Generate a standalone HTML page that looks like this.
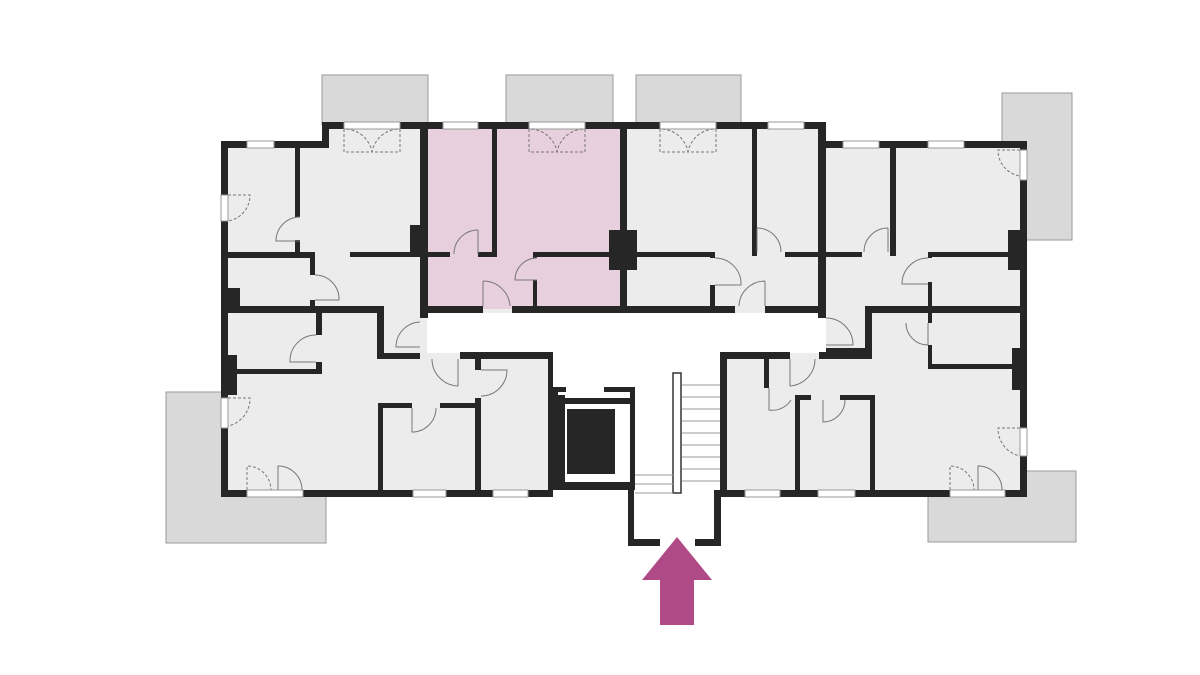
<!DOCTYPE html>
<html><head><meta charset="utf-8"><style>html,body{margin:0;padding:0;background:#fff}svg{display:block}</style></head>
<body>
<svg width="1200" height="675" viewBox="0 0 1200 675" xmlns="http://www.w3.org/2000/svg">
<!-- balconies -->
<g fill="#d9d9d9" stroke="#9a9a9a" stroke-width="1">
<rect x="322" y="75" width="106" height="50"/>
<rect x="506" y="75" width="107" height="50"/>
<rect x="636" y="75" width="105" height="50"/>
<rect x="1002" y="93" width="70" height="147"/>
<rect x="166" y="392" width="160" height="151"/>
<rect x="928" y="471" width="148" height="71"/>
</g>
<!-- floor fill -->
<polygon fill="#ececec" points="221,141 322,141 322,122 826,122 826,141 1027,141 1027,497 221,497"/>
<rect x="428" y="129" width="195" height="180" fill="#e8cfdd"/>
<!-- corridor white -->
<polygon fill="#fff" points="427,313 826,313 826,353 722,353 722,545 634,545 634,497 552,497 552,353 427,353"/>
<!-- walls -->
<g fill="#262626">
<!-- outer -->
<rect x="221" y="141" width="101" height="7"/>
<rect x="322" y="122" width="7" height="26"/>
<rect x="322" y="122" width="504" height="7"/>
<rect x="818" y="122" width="8" height="26"/>
<rect x="818" y="141" width="209" height="7"/>
<rect x="1020" y="141" width="7" height="356"/>
<rect x="221" y="141" width="7" height="356"/>
<rect x="221" y="490" width="331" height="7"/>
<rect x="722" y="490" width="305" height="7"/>
<!-- entrance -->
<rect x="628" y="490" width="6" height="56"/>
<rect x="714" y="490" width="7" height="56"/>
<rect x="628" y="539" width="32" height="7"/>
<rect x="695" y="539" width="26" height="7"/>
<!-- top left block -->
<rect x="295" y="147" width="5" height="70"/>
<rect x="295" y="240" width="5" height="15"/>
<rect x="228" y="252" width="87" height="6"/>
<rect x="310" y="252" width="5" height="23"/>
<rect x="310" y="300" width="5" height="8"/>
<rect x="350" y="252" width="71" height="5"/>
<rect x="410" y="225" width="11" height="30"/>
<rect x="221" y="288" width="19" height="22"/>
<rect x="221" y="306" width="162" height="7"/>
<rect x="377" y="306" width="7" height="53"/>
<rect x="377" y="353" width="43" height="6"/>
<rect x="420" y="122" width="8" height="196"/>
<!-- pink block -->
<rect x="492" y="129" width="5" height="127"/>
<rect x="428" y="252" width="22" height="5"/>
<rect x="478" y="252" width="19" height="5"/>
<rect x="533" y="252" width="80" height="5"/>
<rect x="533" y="252" width="4" height="6"/>
<rect x="533" y="280" width="4" height="28"/>
<rect x="609" y="230" width="28" height="40"/>
<rect x="620" y="122" width="7" height="191"/>
<rect x="427" y="306" width="56" height="7"/>
<rect x="512" y="306" width="223" height="7"/>
<rect x="765" y="306" width="61" height="7"/>
<!-- middle top block -->
<rect x="637" y="252" width="76" height="5"/>
<rect x="710" y="252" width="5" height="6"/>
<rect x="710" y="285" width="5" height="24"/>
<rect x="752" y="122" width="5" height="134"/>
<rect x="785" y="252" width="35" height="5"/>
<rect x="818" y="122" width="8" height="196"/>
<!-- right block -->
<rect x="826" y="252" width="36" height="5"/>
<rect x="890" y="147" width="6" height="109"/>
<rect x="928" y="252" width="85" height="5"/>
<rect x="928" y="252" width="4" height="6"/>
<rect x="928" y="282" width="4" height="26"/>
<rect x="1008" y="230" width="19" height="40"/>
<rect x="865" y="306" width="162" height="7"/>
<rect x="865" y="306" width="7" height="53"/>
<rect x="826" y="348" width="46" height="8"/>
<rect x="928" y="313" width="4" height="10"/>
<rect x="928" y="345" width="4" height="24"/>
<rect x="928" y="364" width="92" height="5"/>
<rect x="1012" y="348" width="15" height="42"/>
<!-- lower left -->
<rect x="316" y="313" width="6" height="22"/>
<rect x="316" y="362" width="6" height="12"/>
<rect x="228" y="369" width="94" height="5"/>
<rect x="221" y="355" width="16" height="40"/>
<rect x="460" y="352" width="92" height="7"/>
<rect x="548" y="352" width="5" height="145"/>
<rect x="378" y="403" width="34" height="5"/>
<rect x="440" y="403" width="35" height="5"/>
<rect x="378" y="403" width="5" height="92"/>
<rect x="475" y="358" width="6" height="12"/>
<rect x="475" y="398" width="6" height="95"/>
<!-- lift -->
<rect x="553" y="387" width="13" height="5"/>
<rect x="604" y="387" width="31" height="5"/>
<rect x="553" y="387" width="5" height="103"/>
<rect x="630" y="387" width="5" height="103"/>
<rect x="558" y="395" width="7" height="95"/>
<rect x="558" y="398" width="72" height="6"/>
<rect x="558" y="482" width="72" height="8"/>
<rect x="566" y="408" width="50" height="67" stroke="#fff" stroke-width="2"/>
<!-- lower right -->
<rect x="722" y="352" width="68" height="7"/>
<rect x="819" y="352" width="53" height="7"/>
<rect x="720" y="352" width="7" height="145"/>
<rect x="764" y="358" width="5" height="30"/>
<rect x="795" y="395" width="16" height="5"/>
<rect x="840" y="395" width="35" height="5"/>
<rect x="795" y="395" width="5" height="98"/>
<rect x="870" y="395" width="5" height="98"/>
</g>
<!-- stairs -->
<g stroke="#9a9a9a" stroke-width="1" fill="none">
<rect x="673" y="373" width="8" height="120" fill="#fff" stroke="#333" stroke-width="1.5"/>
<path d="M682,385H720M682,397H720M682,409H720M682,421H720M682,433H720M682,445H720M682,457H720M682,469H720M682,481H720M635,475H673M635,484H673M635,493H673"/>
</g>
<!-- windows -->
<g fill="#fff" stroke="#999" stroke-width="1">
<rect x="247" y="141" width="27" height="7"/>
<rect x="344" y="122" width="56" height="7"/>
<rect x="443" y="122" width="35" height="7"/>
<rect x="529" y="122" width="56" height="7"/>
<rect x="660" y="122" width="56" height="7"/>
<rect x="768" y="122" width="36" height="7"/>
<rect x="843" y="141" width="36" height="7"/>
<rect x="928" y="141" width="36" height="7"/>
<rect x="1020" y="150" width="7" height="30"/>
<rect x="221" y="195" width="7" height="26"/>
<rect x="221" y="398" width="7" height="30"/>
<rect x="1020" y="428" width="7" height="28"/>
<rect x="247" y="490" width="56" height="7"/>
<rect x="413" y="490" width="33" height="7"/>
<rect x="493" y="490" width="35" height="7"/>
<rect x="745" y="490" width="35" height="7"/>
<rect x="818" y="490" width="37" height="7"/>
<rect x="950" y="490" width="55" height="7"/>
</g>
<!-- doors -->
<g fill="none" stroke="#777" stroke-width="1">
<path d="M300,217 A24,24 0 0 0 276,241 H300"/>
<path d="M315,275 A24,24 0 0 1 339,300 H315"/>
<path d="M478,230 A24,24 0 0 0 454,254"/><path d="M478,230V254"/>
<path d="M537,258 A22,22 0 0 0 515,280 H537"/>
<path d="M483,281 V306 M483,281 A27,27 0 0 1 510,306"/>
<path d="M715,258 A26,26 0 0 1 741,285 H715"/>
<path d="M765,281 V306 M765,281 A26,26 0 0 0 739,306"/>
<path d="M757,228 V252 M757,228 A24,24 0 0 1 781,252"/>
<path d="M888,228 V252 M888,228 A24,24 0 0 0 864,252"/>
<path d="M928,258 A26,26 0 0 0 902,284 H928"/>
<path d="M928,323 V345 M928,345 A22,22 0 0 1 906,323"/>
<path d="M420,322 A25,25 0 0 0 396,347 H420"/>
<path d="M826,318 A27,27 0 0 1 853,345 H826"/>
<path d="M316,335 A26,26 0 0 0 290,362 H316"/>
<path d="M432,359 A27,27 0 0 0 458,386 V359"/>
<path d="M481,370 H507 A26,26 0 0 1 481,396"/>
<path d="M412,408 V432 A24,24 0 0 0 436,408"/>
<path d="M790,359 V386 A27,27 0 0 0 815,359"/>
<path d="M769,388 V410 A22,22 0 0 0 791,400"/>
<path d="M823,400 V422 A22,22 0 0 0 845,400"/>
<path d="M278,490 V466 A24,24 0 0 1 302,490"/>
<path d="M978,490 V466 A24,24 0 0 1 1002,490"/>
</g>
<g fill="none" stroke="#777" stroke-width="1" stroke-dasharray="3,2">
<path d="M344,129 V152 H372 A28,28 0 0 0 344,129"/>
<path d="M400,129 V152 H372 A28,28 0 0 1 400,129"/>
<path d="M529,129 V152 H557 A28,28 0 0 0 529,129"/>
<path d="M585,129 V152 H557 A28,28 0 0 1 585,129"/>
<path d="M660,129 V152 H688 A28,28 0 0 0 660,129"/>
<path d="M716,129 V152 H688 A28,28 0 0 1 716,129"/>
<path d="M1020,150 H998 A26,26 0 0 0 1020,176"/>
<path d="M228,195 H250 A26,26 0 0 1 228,221"/>
<path d="M228,398 H250 A28,28 0 0 1 228,426"/>
<path d="M1020,428 H998 A28,28 0 0 0 1020,456"/>
<path d="M247,490 V466 A24,24 0 0 1 271,490"/>
<path d="M950,490 V466 A24,24 0 0 1 974,490"/>
</g>
<!-- entrance arrow -->
<polygon fill="#b04a86" points="677,537 712,580 694,580 694,625 660,625 660,580 642,580"/>
</svg>
</body></html>
